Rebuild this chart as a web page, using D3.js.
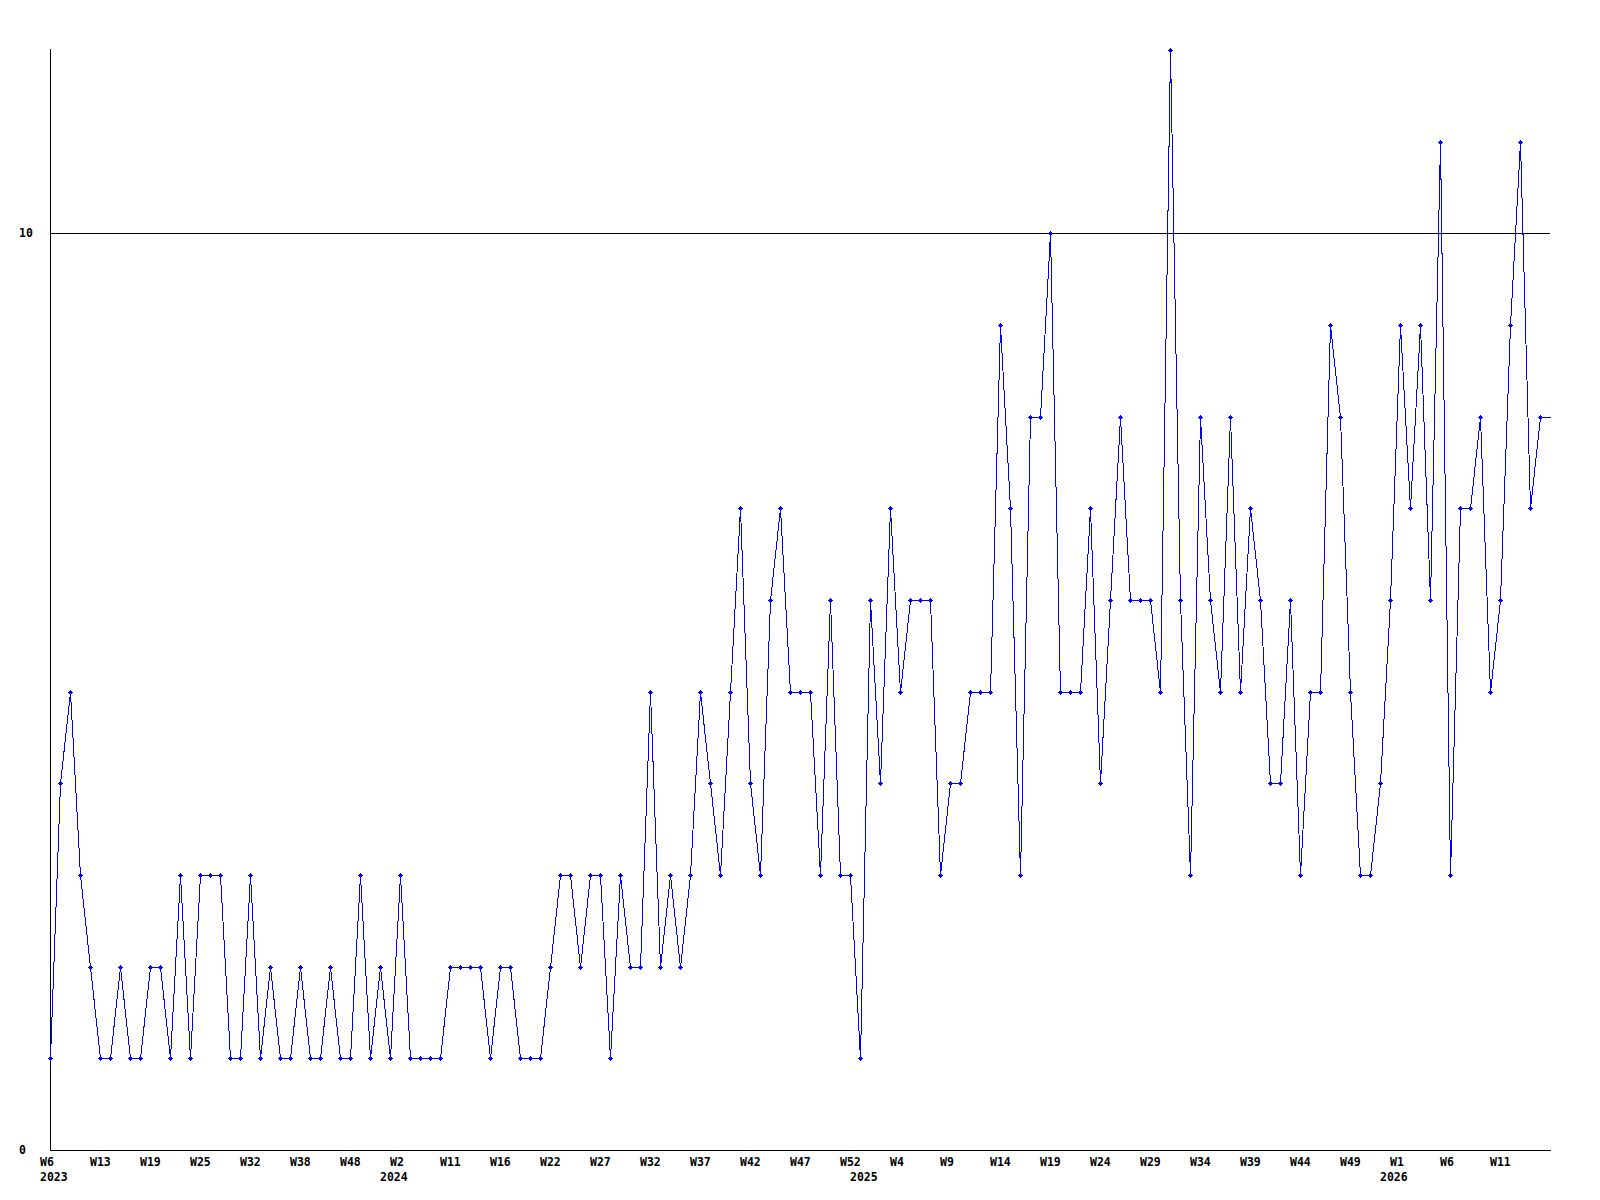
<!DOCTYPE html>
<html>
<head>
<meta charset="utf-8">
<script src="https://cdn.jsdelivr.net/npm/d3@7/dist/d3.min.js"></script>
<style>
  html, body { margin: 0; padding: 0; background: #fff; }
  svg { display: block; }
  text { font-family: "DejaVu Sans Mono", "Liberation Mono", monospace; font-weight: bold; font-size: 11.5px; fill: #000; }
</style>
</head>
<body>
<svg id="chart" width="1600" height="1200"></svg>
<script>
// Weekly values, one per data point (left to right)
const values = [
  1,4,5,3,2,1,1,2,1,1,
  2,2,1,3,1,3,3,3,1,1,
  3,1,2,1,1,2,1,1,2,1,
  1,3,1,2,1,3,1,1,1,1,
  2,2,2,2,1,2,2,1,1,1,
  2,3,3,2,3,3,1,3,2,2,
  5,2,3,2,3,5,4,3,5,7,
  4,3,6,7,5,5,5,3,6,3,
  3,1,6,4,7,5,6,6,6,3,
  4,4,5,5,5,9,7,3,8,8,
  10,5,5,5,7,4,6,8,6,6,
  6,5,12,6,3,8,6,5,8,5,
  7,6,4,4,6,3,5,5,9,8,
  5,3,3,4,6,9,7,9,6,11,
  3,7,7,8,5,6,9,11,7,8
];
// Week tick labels, one every 5th point
const weekTickLabels = ["W6","W13","W19","W25","W32","W38","W48","W2","W11","W16","W22","W27","W32","W37","W42","W47","W52","W4","W9","W14","W19","W24","W29","W34","W39","W44","W49","W1","W6","W11"];
const weekTickStep = 5;
// Year labels and the point index where each year starts
const yearLabels = ["2023","2024","2025","2026"];
const yearStartIndex = [0, 34, 81, 134];
// Y axis labels
const yTickValues = [0, 10];
const referenceLine = 10;
const yMax = 12;

const svg = d3.select("#chart");
const x = d3.scaleLinear().domain([0, values.length]).range([50, 1550]);
const y = d3.scaleLinear().domain([0, yMax]).range([1150, 50]);
const px = v => Math.round(x(v)) + 0.5;
const py = v => Math.round(y(v)) + 0.5;

// reference line at 10
svg.append("line")
  .attr("x1", 50).attr("x2", 1550)
  .attr("y1", py(referenceLine)).attr("y2", py(referenceLine))
  .attr("stroke", "#000").attr("stroke-width", 1)
  .attr("shape-rendering", "crispEdges");

// axes
svg.append("line")
  .attr("x1", 50.5).attr("x2", 50.5)
  .attr("y1", 49).attr("y2", py(0))
  .attr("stroke", "#000").attr("shape-rendering", "crispEdges");
svg.append("line")
  .attr("x1", 50).attr("x2", 1551)
  .attr("y1", py(0)).attr("y2", py(0))
  .attr("stroke", "#000").attr("shape-rendering", "crispEdges");

// y labels
svg.selectAll("text.ylab").data(yTickValues).join("text")
  .attr("class", "ylab")
  .attr("x", 19)
  .attr("y", d => Math.round(y(d)) + 4)
  .text(d => d);

// data line (extended flat to the right edge)
const pts = values.map((v, i) => [px(i), py(v)]);
pts.push([px(values.length), py(values[values.length - 1])]);
svg.append("path")
  .attr("d", d3.line()(pts))
  .attr("fill", "none")
  .attr("stroke", "#0000ff")
  .attr("stroke-width", 1)
  .attr("shape-rendering", "crispEdges");

// markers
const mk = svg.append("g").attr("fill", "#0000ff").attr("shape-rendering", "crispEdges");
values.forEach((v, i) => {
  const cx = Math.round(x(i)), cy = Math.round(y(v));
  mk.append("rect").attr("x", cx - 2).attr("y", cy).attr("width", 5).attr("height", 1);
  mk.append("rect").attr("x", cx).attr("y", cy - 2).attr("width", 1).attr("height", 5);
  mk.append("rect").attr("x", cx - 1).attr("y", cy - 1).attr("width", 3).attr("height", 3);
});

// week labels
svg.selectAll("text.wk").data(weekTickLabels).join("text")
  .attr("class", "wk")
  .attr("x", (d, k) => Math.round(x(k * weekTickStep)) - 10)
  .attr("y", 1166)
  .text(d => d);

// year labels
svg.selectAll("text.yr").data(yearLabels).join("text")
  .attr("class", "yr")
  .attr("x", (d, k) => Math.round(x(yearStartIndex[k])) - 10)
  .attr("y", 1181)
  .text(d => d);
</script>
</body>
</html>
